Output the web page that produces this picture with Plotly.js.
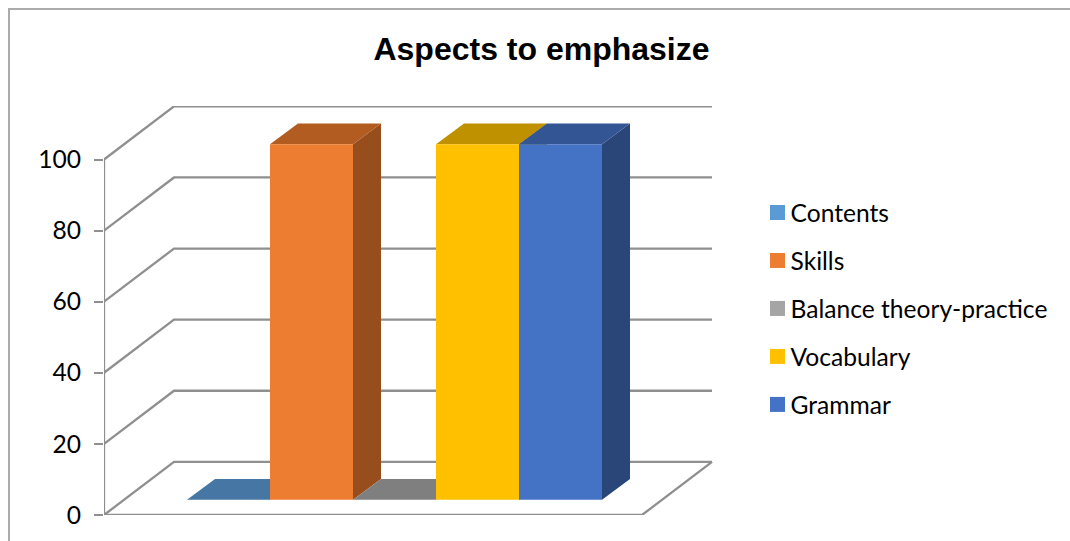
<!DOCTYPE html>
<html>
<head>
<meta charset="utf-8">
<script src="https://cdn.plot.ly/plotly-3.0.1.min.js"></script>
<style>
  html, body { margin: 0; padding: 0; background: #fff; overflow: hidden; }
  #frame { position: absolute; left: 8px; top: 8px; width: 1062px; height: 533px;
           border-left: 2px solid #ababab; border-top: 2px solid #ababab; box-sizing: border-box; }
  #chart { position: absolute; left: 0; top: 0; width: 1070px; height: 541px; }
</style>
</head>
<body>
<div id="frame"></div>
<div id="chart"></div>
<script>
// Survey answers, one bar per aspect
const categories = ['Contents', 'Skills', 'Balance theory-practice', 'Vocabulary', 'Grammar'];
const values = [0, 100, 0, 100, 100];
const tickValues = [0, 20, 40, 60, 80, 100];

// Face shades for the extruded bars
const legendColors = ['#5B9BD5', '#ED7D31', '#A5A5A5', '#FFC000', '#4472C4'];
const frontColors = ['#5B9BD5', '#ED7D31', '#A5A5A5', '#FFC000', '#4472C4'];
const topColors = ['#4676A3', '#B25C22', '#7F7F7F', '#BF9000', '#335593'];
const sideColors = ['#3B6488', '#974E1C', '#6B6B6B', '#A07900', '#2A4678'];
const gridColor = '#8f8f8f';

// Oblique projection: how far the back wall and bars are shifted, in axis units
const xRange = [-1.5, 5.8373];
const yRange = [0, 115.05];
const floorLeft = xRange[0];
const floorRight = 4.982;
const wallDx = 70 / 83;
const wallDy = 14.95;
const barDx = 28 / 83;
const barDy = 5.8;
const barBase = 4.3;
const halfBar = 0.5;

const traces = [];

// Walls: one bent line per tick, running from the axis to the back and across
const gridX = [], gridY = [];
tickValues.forEach(t => {
  gridX.push(floorLeft, floorLeft + wallDx, floorRight + wallDx, null);
  gridY.push(t, t + wallDy, t + wallDy, null);
});
traces.push({
  type: 'scatter', mode: 'lines', x: gridX, y: gridY, connectgaps: false, cliponaxis: false,
  line: { color: gridColor, width: 2.3 }, hoverinfo: 'skip', showlegend: false
});

// Axis line and the open front and right edges of the floor
traces.push({
  type: 'scatter', mode: 'lines', cliponaxis: false,
  x: [floorLeft, floorLeft, floorRight, floorRight + wallDx],
  y: [tickValues[tickValues.length - 1], 0, 0, wallDy],
  line: { color: gridColor, width: 2.3 }, hoverinfo: 'skip', showlegend: false
});

// Side and top faces sit on the base subplot, painted left to right
values.forEach((v, i) => {
  const l = i - halfBar, r = i + halfBar, b = barBase, t = barBase + v;
  traces.push({
    type: 'scatter', mode: 'lines', fill: 'toself', fillcolor: sideColors[i], cliponaxis: false,
    x: [r, r + barDx, r + barDx, r, r], y: [b, b + barDy, t + barDy, t, b],
    line: { width: 0 }, hoverinfo: 'skip', showlegend: false
  });
  traces.push({
    type: 'scatter', mode: 'lines', fill: 'toself', fillcolor: topColors[i], cliponaxis: false,
    x: [l, r, r + barDx, l + barDx, l], y: [t, t, t + barDy, t + barDy, t],
    line: { width: 0 }, hoverinfo: 'skip', showlegend: false
  });
});

// Front faces on an overlaid subplot so they cover the neighbouring depth faces
values.forEach((v, i) => {
  traces.push({
    type: 'bar', xaxis: 'x2', yaxis: 'y2', name: categories[i], legendgroup: categories[i],
    x: [i], y: [v], base: [barBase], width: [1],
    marker: { color: frontColors[i], line: { width: 0 } }, showlegend: false
  });
});

// Square legend keys
categories.forEach((c, i) => {
  traces.push({
    type: 'scatter', mode: 'markers', name: c, legendgroup: c, x: [null], y: [null],
    marker: { symbol: 'square', size: 15, color: legendColors[i] }, hoverinfo: 'skip'
  });
});

const labelFont = { family: 'Lato, Carlito, sans-serif', size: 24.6, color: '#000000' };

const layout = {
  width: 1070, height: 541,
  margin: { l: 104, r: 357, t: 106, b: 26, pad: 0 },
  paper_bgcolor: 'rgba(0,0,0,0)', plot_bgcolor: 'rgba(0,0,0,0)',
  barmode: 'overlay',
  title: {
    text: 'Aspects to emphasize',
    font: { family: 'Liberation Sans, Arial, sans-serif', size: 32, weight: 'bold', color: '#000000' },
    x: 541.5 / 1070, xref: 'container', xanchor: 'center',
    y: 1 - 49 / 541, yref: 'container', yanchor: 'middle'
  },
  xaxis: { range: xRange, visible: false, fixedrange: true },
  yaxis: {
    range: yRange, tickmode: 'array', tickvals: tickValues, ticktext: tickValues.map(String),
    ticks: 'outside', ticklen: 9, tickwidth: 2, tickcolor: gridColor, ticklabelstandoff: 8,
    tickfont: labelFont, showgrid: false, zeroline: false, showline: false, fixedrange: true
  },
  xaxis2: { range: xRange, overlaying: 'x', visible: false, fixedrange: true },
  yaxis2: { range: yRange, overlaying: 'y', visible: false, fixedrange: true },
  legend: {
    xref: 'container', yref: 'container', x: 757.5 / 1070, y: 1 - 190 / 541,
    xanchor: 'left', yanchor: 'top', font: labelFont, bgcolor: 'rgba(0,0,0,0)',
    tracegroupgap: 13, indentation: -7, traceorder: 'grouped', itemclick: false, itemdoubleclick: false
  },
  showlegend: true
};

// Only the labels take the negative indent; the keys stay at their own position
function tightenLegendKeys() {
  document.querySelectorAll('#chart .legend .traces .layers').forEach(el => {
    el.setAttribute('transform', 'translate(0,0)');
  });
}

Plotly.newPlot('chart', traces, layout, { displayModeBar: false, responsive: false }).then(gd => {
  tightenLegendKeys();
  gd.on('plotly_afterplot', tightenLegendKeys);
});
</script>
</body>
</html>
